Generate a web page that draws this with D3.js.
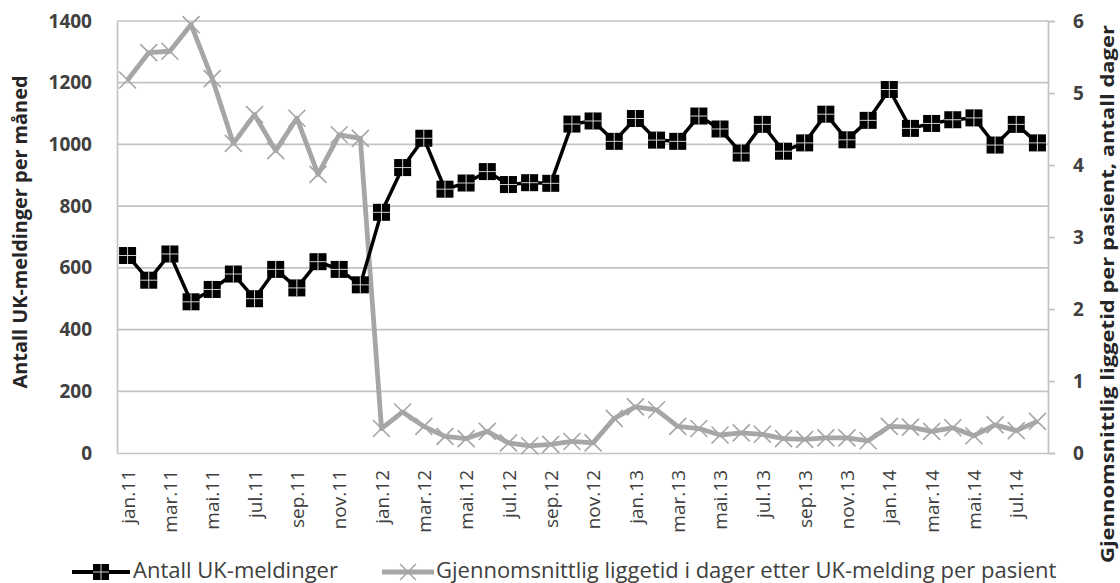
<!DOCTYPE html>
<html>
<head>
<meta charset="utf-8">
<script src="https://cdn.jsdelivr.net/npm/d3@7"></script>
<style>
  html, body { margin: 0; padding: 0; background: #fff; }
  svg { display: block; }
  text { font-family: "Open Sans", "Noto Sans", sans-serif; }
</style>
</head>
<body>
<svg id="chart" width="1120" height="583"></svg>
<script>
// Months Jan 2011 – Aug 2014
const months = [
  "jan.11","feb.11","mar.11","apr.11","mai.11","jun.11","jul.11","aug.11","sep.11","okt.11","nov.11","des.11",
  "jan.12","feb.12","mar.12","apr.12","mai.12","jun.12","jul.12","aug.12","sep.12","okt.12","nov.12","des.12",
  "jan.13","feb.13","mar.13","apr.13","mai.13","jun.13","jul.13","aug.13","sep.13","okt.13","nov.13","des.13",
  "jan.14","feb.14","mar.14","apr.14","mai.14","jun.14","jul.14","aug.14"
];

// Number of UK notifications per month (left axis)
const ukMeldinger = [
  640, 560, 645, 490, 530, 580, 500, 595, 535, 620, 595, 545,
  780, 925, 1020, 855, 875, 912, 870, 876, 874, 1066, 1076, 1010,
  1084, 1014, 1010, 1092, 1050, 972, 1065, 978, 1005, 1098, 1015, 1078,
  1178, 1052, 1068, 1080, 1086, 998, 1065, 1005
];

// Average length of stay in days after UK notification per patient (right axis)
const liggetid = [
  5.18, 5.56, 5.58, 5.95, 5.20, 4.30, 4.70, 4.20, 4.65, 3.87, 4.42, 4.37,
  0.34, 0.57, 0.37, 0.23, 0.20, 0.30, 0.14, 0.10, 0.12, 0.16, 0.14, 0.48,
  0.64, 0.60, 0.37, 0.34, 0.25, 0.28, 0.26, 0.20, 0.19, 0.21, 0.21, 0.17,
  0.37, 0.36, 0.30, 0.35, 0.24, 0.39, 0.31, 0.44
];

const leftTicks = [0, 200, 400, 600, 800, 1000, 1200, 1400];
const rightTicks = [0, 1, 2, 3, 4, 5, 6];
const labelEvery = 2;

const seriesNames = ["Antall UK-meldinger", "Gjennomsnittlig liggetid i dager etter UK-melding per pasient"];
const leftTitle = "Antall UK-meldinger per måned";
const rightTitle = "Gjennomsnittlig liggetid per pasient, antall dager";

const plot = { left: 117, right: 1048, top: 21, bottom: 453 };
const textColor = "#404040";
const titleColor = "#262626";
const gridColor = "#c3c3c3";
const grayLine = "#a6a6a6";

const svg = d3.select("#chart");

const x = d3.scalePoint().domain(months).range([plot.left, plot.right]).padding(0.5);
const yL = d3.scaleLinear().domain([0, 1400]).range([plot.bottom, plot.top]);
const yR = d3.scaleLinear().domain([0, 6]).range([plot.bottom, plot.top]);

// Horizontal gridlines follow the left axis
svg.append("g").selectAll("line").data(leftTicks.filter(d => d > 0)).join("line")
  .attr("x1", plot.left).attr("x2", plot.right)
  .attr("y1", d => yL(d)).attr("y2", d => yL(d))
  .attr("stroke", gridColor).attr("stroke-width", 1.7);

// Left axis
const axL = svg.append("g").attr("transform", `translate(${plot.left},0)`)
  .call(d3.axisLeft(yL).tickValues(leftTicks).tickFormat(d3.format("d")).tickSize(0).tickPadding(25));
axL.select(".domain").attr("stroke", gridColor).attr("stroke-width", 1.7);
axL.selectAll("text").attr("fill", textColor).attr("font-size", 19).attr("font-weight", 700);

// Right axis
const axR = svg.append("g").attr("transform", `translate(${plot.right},0)`)
  .call(d3.axisRight(yR).tickValues(rightTicks).tickFormat(d3.format("d"))
    .tickSizeInner(7).tickSizeOuter(7).tickPadding(18));
axR.select(".domain").attr("stroke", gridColor).attr("stroke-width", 1.7);
axR.selectAll(".tick line").attr("stroke", gridColor).attr("stroke-width", 1.7);
axR.selectAll("text").attr("fill", textColor).attr("font-size", 19).attr("font-weight", 700);

// Bottom axis
const axB = svg.append("g").attr("transform", `translate(0,${plot.bottom})`)
  .call(d3.axisBottom(x).tickSize(0).tickFormat((d, i) => i % labelEvery === 0 ? d : ""));
axB.select(".domain").attr("stroke", gridColor).attr("stroke-width", 1.7);
axB.selectAll("text")
  .attr("fill", textColor).attr("font-size", 19)
  .attr("transform", "rotate(-90)")
  .attr("text-anchor", "end")
  .attr("dy", "0.35em").attr("y", 0).attr("x", -17);

// Axis titles
svg.append("text")
  .attr("transform", `translate(27,232) rotate(-90)`)
  .attr("text-anchor", "middle")
  .attr("font-size", 19).attr("font-weight", 700).attr("fill", titleColor)
  .attr("textLength", 313).attr("lengthAdjust", "spacingAndGlyphs")
  .text(leftTitle);
svg.append("text")
  .attr("transform", `translate(1114,294) rotate(-90)`)
  .attr("text-anchor", "middle")
  .attr("font-size", 18).attr("font-weight", 700).attr("fill", titleColor)
  .attr("textLength", 538).attr("lengthAdjust", "spacingAndGlyphs")
  .text(rightTitle);

// Marker drawers
function squareMarker(g, size) {
  const h = size / 2;
  g.append("rect").attr("x", -h).attr("y", -h).attr("width", size).attr("height", size).attr("fill", "#000");
  g.append("line").attr("x1", -h).attr("x2", h).attr("y1", 0).attr("y2", 0).attr("stroke", "#d0d0d0").attr("stroke-width", 1);
  g.append("line").attr("y1", -h).attr("y2", h).attr("x1", 0).attr("x2", 0).attr("stroke", "#d0d0d0").attr("stroke-width", 1);
}
function xMarker(g, size) {
  const h = size / 2;
  g.append("path").attr("d", `M${-h},${-h}L${h},${h}M${-h},${h}L${h},${-h}`)
    .attr("stroke", grayLine).attr("stroke-width", 1.6).attr("fill", "none");
}

// Gray series (right axis)
const lineR = d3.line().x((d, i) => x(months[i])).y(d => yR(d));
svg.append("path").datum(liggetid).attr("d", lineR)
  .attr("fill", "none").attr("stroke", grayLine).attr("stroke-width", 4.8).attr("stroke-linejoin", "round");
svg.append("g").selectAll("g").data(liggetid).join("g")
  .attr("transform", (d, i) => `translate(${x(months[i])},${yR(d)})`)
  .each(function () { xMarker(d3.select(this), 17); });

// Black series (left axis)
const lineL = d3.line().x((d, i) => x(months[i])).y(d => yL(d));
svg.append("path").datum(ukMeldinger).attr("d", lineL)
  .attr("fill", "none").attr("stroke", "#000").attr("stroke-width", 3.5).attr("stroke-linejoin", "round");
svg.append("g").selectAll("g").data(ukMeldinger).join("g")
  .attr("transform", (d, i) => `translate(${x(months[i])},${yL(d)})`)
  .each(function () { squareMarker(d3.select(this), 17); });

// Legend
const legY = 572;
const legText = 578;
const leg1 = svg.append("g");
leg1.append("line").attr("x1", 72).attr("x2", 130).attr("y1", legY).attr("y2", legY).attr("stroke", "#000").attr("stroke-width", 4);
squareMarker(leg1.append("g").attr("transform", `translate(101,${legY})`), 16);
leg1.append("text").attr("x", 133).attr("y", legText)
  .attr("font-size", 22).attr("fill", textColor)
  .text(seriesNames[0]);

const leg2 = svg.append("g");
leg2.append("line").attr("x1", 382).attr("x2", 434).attr("y1", legY).attr("y2", legY).attr("stroke", grayLine).attr("stroke-width", 4.8);
xMarker(leg2.append("g").attr("transform", `translate(408,${legY})`), 16);
leg2.append("text").attr("x", 436).attr("y", legText)
  .attr("font-size", 22).attr("fill", textColor)
  .text(seriesNames[1]);
</script>
</body>
</html>
